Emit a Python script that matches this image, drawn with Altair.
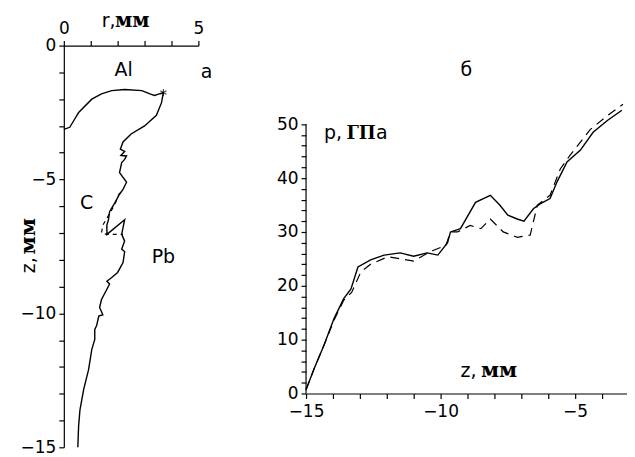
import altair as alt
import pandas as pd

# ---------- panel a: interface profile r(z) ----------
r_solid = [0.0, 0.22, 0.4, 0.55, 1.04, 1.4, 1.78, 2.26, 2.9, 3.2, 3.37, 3.55, 3.7,
           3.63, 3.44, 3.0, 2.5, 2.2, 2.1, 2.26, 2.12, 2.33, 2.26, 2.15, 2.07, 2.33,
           2.2, 2.07, 1.9, 1.7, 1.66, 1.6, 1.6, 2.26, 2.2, 2.15, 2.26, 2.15, 2.26,
           2.2, 2.0, 1.78, 1.6, 1.7, 1.6, 1.4, 1.33, 1.45, 1.3, 1.22, 1.15, 1.15,
           1.04, 0.92, 0.74, 0.6, 0.55, 0.52]
z_solid = [-3.13, -3.05, -2.75, -2.5, -2.0, -1.8, -1.68, -1.64, -1.68, -1.8, -1.86,
           -1.8, -1.75, -2.13, -2.6, -3.0, -3.3, -3.6, -3.87, -3.95, -4.1, -4.12,
           -4.25, -4.37, -4.74, -5.1, -5.37, -5.55, -5.86, -6.2, -6.5, -6.7, -7.05,
           -6.5, -6.8, -7.05, -7.3, -7.6, -7.7, -8.1, -8.47, -8.66, -8.8, -8.9,
           -9.1, -9.48, -9.78, -10.05, -10.1, -10.45, -10.6, -10.97, -11.34, -12.1,
           -12.83, -13.6, -14.2, -15.0]
r_dash = [2.07, 1.95, 1.8, 1.6, 1.45, 1.4, 1.6, 2.2]
z_dash = [-5.5, -5.8, -6.1, -6.45, -6.7, -7.0, -7.05, -7.05]

star_r = [3.7]
star_z = [-1.75]

lab_a_text = ["Al", "C", "Pb", "a"]
lab_a_r = [2.22, 0.85, 3.7, 5.3]
lab_a_z = [-0.93, -5.86, -7.9, -1.0]

# axis titles of panel a, split into sans and serif pieces
tit_a_text = ["r,", "мм"]
tit_a_r = [1.41, 1.9]
tit_a_z = [0.7, 0.7]
tit_a_serif = [False, True]
tit_a_size = [19, 20]
vtit_a_text = ["z,", "мм"]
vtit_a_r = [-1.07, -1.07]
vtit_a_z = [-8.5, -7.8]
vtit_a_serif = [False, True]
vtit_a_size = [19, 21]

# ---------- panel б: pressure p(z) ----------
zb_solid = [-15, -14.7, -14.33, -13.96, -13.6, -13.33, -13.07, -12.6, -12.1, -11.5,
            -11.0, -10.5, -10.1, -9.74, -9.63, -9.26, -8.7, -8.15, -7.8, -7.5,
            -7.15, -6.9, -6.55, -6.3, -5.93, -5.67, -5.3, -4.8, -4.33, -3.8, -3.26]
p_solid = [0.7, 4.6, 9, 13.9, 17.6, 19.4, 23.5, 24.8, 25.7, 26.1, 25.5, 26.1, 25.7,
           28, 30, 30.6, 35.5, 36.8, 35, 33.1, 32.4, 32, 34.3, 35.2, 36.2, 39.3, 43,
           45.2, 48.5, 50.7, 52.6]
zb_dash = [-15, -14.7, -14.33, -13.96, -13.6, -13.3, -12.96, -12.6, -11.96, -11.5,
           -11.0, -10.5, -10.26, -9.8, -9.63, -9.37, -8.9, -8.5, -8.15, -7.67, -7.15,
           -6.67, -6.4, -5.93, -5.55, -5.19, -4.44, -3.8, -3.22]
p_dash = [0.7, 4.6, 9, 13.6, 17.3, 18.8, 22.6, 24, 25.4, 25, 24.6, 26, 26.6, 27.5,
          30, 30, 31.2, 30.6, 32.4, 30, 29, 29.4, 35, 36.8, 41.7, 44.2, 49, 51.6, 53.7]

tit_b_text = ["p,", "ГП", "а", "z,", "мм"]
tit_b_z = [-14.33, -13.5, -12.4, -9.26, -8.5]
tit_b_p = [47.2, 47.2, 47.2, 3.15, 3.15]
tit_b_serif = [False, True, False, False, True]
tit_b_size = [19, 18, 19, 19, 21]

r_ticks = [i * 0.5 for i in range(11)]
za_ticks = [-15 + i * 0.5 for i in range(31)]
zb_ticks = [-15 + i * 0.5 for i in range(24)]
p_ticks = [i * 2 for i in range(26)]

SANS = "DejaVu Sans"
SERIF = "DejaVu Serif"


def title_layer(df, xf, yf, angle=0):
    sans = alt.Chart(df[~df["serif"]]).mark_text(
        font=SANS, color="black", align="left",
        baseline="alphabetic", angle=angle).encode(
        x=xf, y=yf, text="t:N", size=alt.Size("s:Q", scale=None))
    serif = alt.Chart(df[df["serif"]]).mark_text(
        font=SERIF, fontWeight="bold", color="black", align="left",
        baseline="alphabetic", angle=angle).encode(
        x=xf, y=yf, text="t:N", size=alt.Size("s:Q", scale=None))
    return sans, serif


dfa_s = pd.DataFrame({"r": r_solid, "z": z_solid, "i": range(len(r_solid))})
dfa_d = pd.DataFrame({"r": r_dash, "z": z_dash, "i": range(len(r_dash))})
dfa_star = pd.DataFrame({"r": star_r, "z": star_z})
dfa_lab = pd.DataFrame({"t": lab_a_text, "r": lab_a_r, "z": lab_a_z})
dfa_tit = pd.DataFrame({"t": tit_a_text, "r": tit_a_r, "z": tit_a_z,
                        "serif": tit_a_serif, "s": tit_a_size})
dfa_vtit = pd.DataFrame({"t": vtit_a_text, "r": vtit_a_r, "z": vtit_a_z,
                         "serif": vtit_a_serif, "s": vtit_a_size})

common_axis = dict(labelOverlap=False, labelFlush=False, grid=False, title=None,
                   tickSize=5, tickCount=200, format="d")

xa = alt.X("r:Q", scale=alt.Scale(domain=[0, 5], nice=False, zero=False),
           axis=alt.Axis(orient="top", values=r_ticks, labelPadding=3,
                         labelExpr="datum.value % 5 == 0 ? datum.label : ''",
                         **common_axis))
ya = alt.Y("z:Q", scale=alt.Scale(domain=[-15, 0], nice=False, zero=False),
           axis=alt.Axis(values=za_ticks, labelPadding=3,
                         labelExpr="datum.value % 5 == 0 ? datum.label : ''",
                         **common_axis))

a_solid = alt.Chart(dfa_s).mark_line(color="black", strokeWidth=1.4).encode(
    x=xa, y=ya, order="i:Q")
a_dash = alt.Chart(dfa_d).mark_line(color="black", strokeWidth=1.2,
                                    strokeDash=[4, 4]).encode(
    x="r:Q", y="z:Q", order="i:Q")
a_star = alt.Chart(dfa_star).mark_point(
    shape="M0,-1L0,1M-0.87,-0.5L0.87,0.5M-0.87,0.5L0.87,-0.5",
    filled=False, color="black", size=50, strokeWidth=1.2).encode(x="r:Q", y="z:Q")
a_text = alt.Chart(dfa_lab).mark_text(font=SANS, fontSize=19, color="black",
                                      baseline="middle", align="center").encode(
    x="r:Q", y="z:Q", text="t:N")
a_t1, a_t2 = title_layer(dfa_tit, "r:Q", "z:Q")
a_v1, a_v2 = title_layer(dfa_vtit, "r:Q", "z:Q", angle=270)

left = alt.layer(a_solid, a_dash, a_star, a_text, a_t1, a_t2, a_v1, a_v2).properties(
    width=135, height=403)

# panel б
dfb_s = pd.DataFrame({"z": zb_solid, "p": p_solid})
dfb_d = pd.DataFrame({"z": zb_dash, "p": p_dash})
dfb_axis = pd.DataFrame({"z": [-15], "p": [0], "p2": [50]})
dfb_lab = pd.DataFrame({"t": ["б"], "z": [-9.04], "p": [60]})
dfb_tit = pd.DataFrame({"t": tit_b_text, "z": tit_b_z, "p": tit_b_p,
                        "serif": tit_b_serif, "s": tit_b_size})

xb = alt.X("z:Q", scale=alt.Scale(domain=[-15, -3.07], nice=False, zero=False),
           axis=alt.Axis(values=zb_ticks, labelPadding=5,
                         labelExpr="datum.value % 5 == 0 ? datum.label : ''",
                         **common_axis))
yb = alt.Y("p:Q", scale=alt.Scale(domain=[0, 64.6], nice=False, zero=False),
           axis=alt.Axis(values=p_ticks, domain=False, labelPadding=3,
                         labelExpr="datum.value % 10 == 0 ? datum.label : ''",
                         **common_axis))

b_solid = alt.Chart(dfb_s).mark_line(color="black", strokeWidth=1.4).encode(x=xb, y=yb)
b_dash = alt.Chart(dfb_d).mark_line(color="black", strokeWidth=1.2,
                                    strokeDash=[9, 6]).encode(x="z:Q", y="p:Q")
b_axis = alt.Chart(dfb_axis).mark_rule(color="black", strokeWidth=1.2).encode(
    x="z:Q", y="p:Q", y2="p2:Q")
b_text = alt.Chart(dfb_lab).mark_text(font=SANS, fontSize=19, color="black",
                                      baseline="middle", align="center").encode(
    x="z:Q", y="p:Q", text="t:N")
b_t1, b_t2 = title_layer(dfb_tit, "z:Q", "p:Q")

right = alt.layer(b_solid, b_dash, b_axis, b_text, b_t1, b_t2).properties(
    width=322, height=349)

chart = alt.hconcat(left, right, spacing=108, bounds="flush").configure_view(
    stroke=None
).configure_axis(
    grid=False, domainColor="black", tickColor="black", labelColor="black",
    labelFont=SANS, labelFontSize=17, domainWidth=1.2, tickWidth=1.2
).properties(background="white",
             padding={"left": 10, "top": 2, "right": 0, "bottom": 0})

chart.save("out.html", embed_options={"renderer": "svg", "actions": False})
